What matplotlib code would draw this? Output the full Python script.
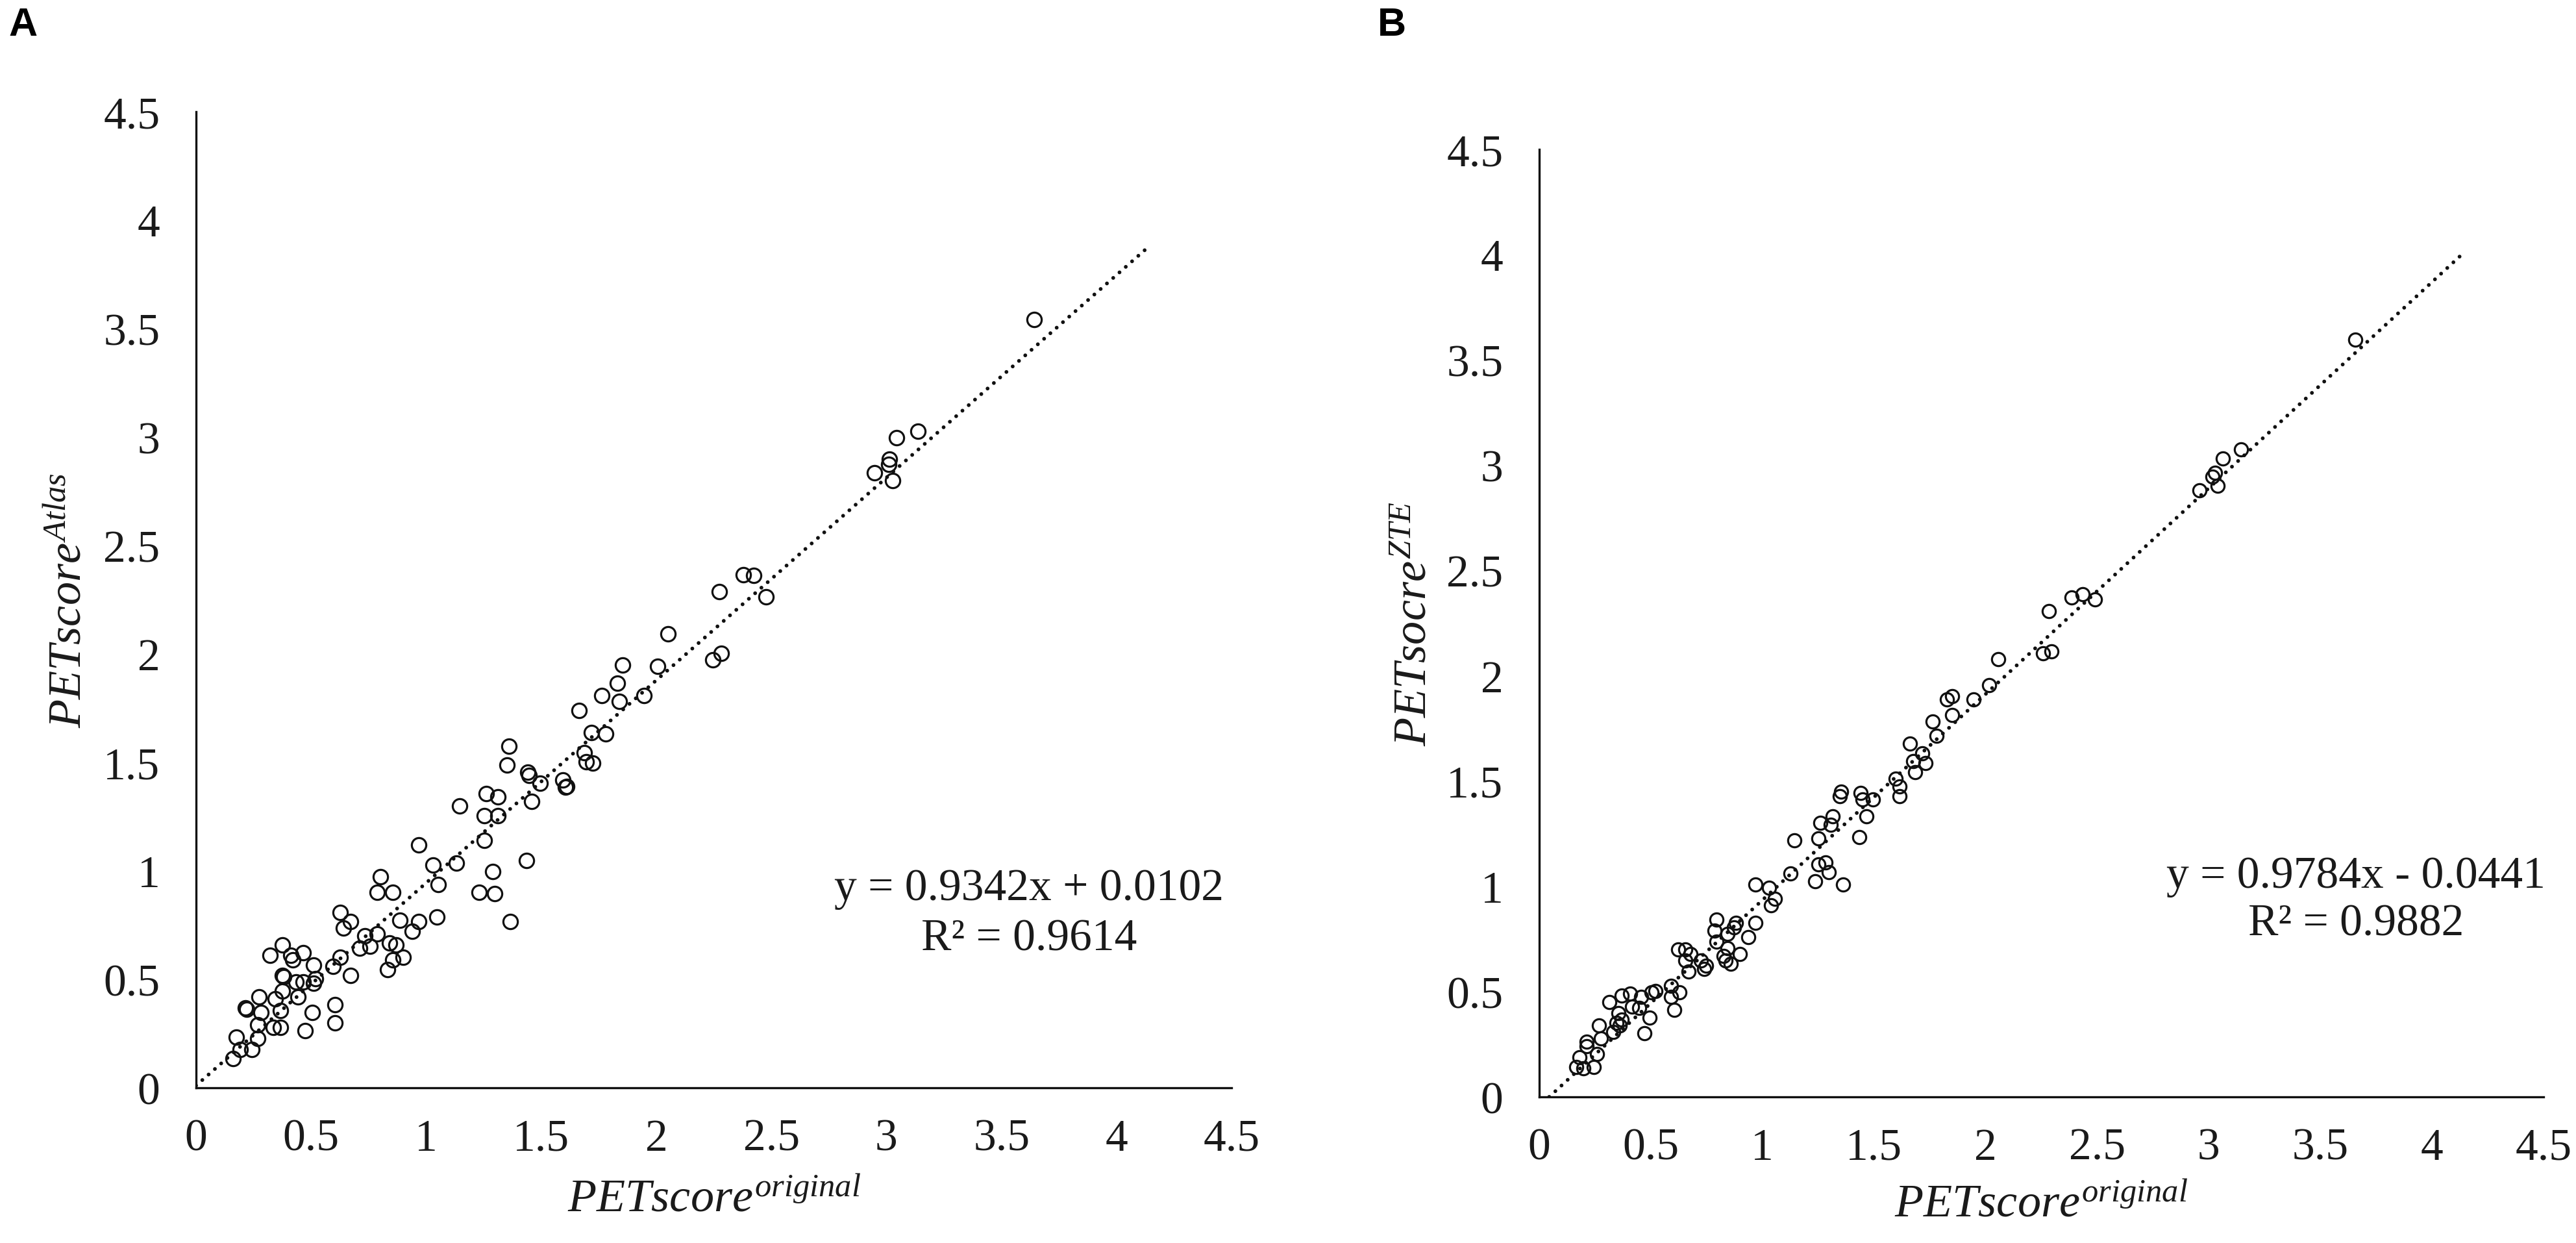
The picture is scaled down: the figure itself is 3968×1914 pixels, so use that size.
import matplotlib
matplotlib.use('Agg')
import matplotlib.pyplot as plt

plt.rcParams['font.family'] = ['Liberation Serif', 'DejaVu Serif']
plt.rcParams['mathtext.fontset'] = 'custom'
plt.rcParams['mathtext.rm'] = 'Liberation Serif'
plt.rcParams['mathtext.it'] = 'Liberation Serif:italic'

# panel A: PETscore original vs PETscore Atlas
x_a = [3.642, 3.138, 3.045, 2.948, 3.009, 3.012, 3.027, 2.379, 2.422, 2.476,
       2.275, 2.247, 2.283, 2.050, 2.007, 1.853,
       1.832, 1.763, 1.840, 1.947, 1.664, 1.718, 1.779, 1.687, 1.695, 1.725,
       1.359, 1.351, 1.443, 1.447, 1.496, 1.458, 1.595, 1.611, 1.605,
       1.145, 1.260, 1.313, 1.252, 1.313, 1.252, 1.435, 1.290, 1.229, 1.298, 1.366,
       0.969, 1.031, 1.130, 1.053, 1.046, 0.969, 0.939, 0.885,
       0.802, 0.786, 0.855, 0.786, 0.733, 0.710, 0.756, 0.840, 0.870, 0.901, 0.855, 0.832,
       0.626, 0.672, 0.641, 0.626, 0.595, 0.672,
       0.374, 0.321, 0.412, 0.466, 0.420, 0.511, 0.374, 0.380, 0.435, 0.466, 0.519, 0.511,
       0.374, 0.443, 0.344, 0.275, 0.214, 0.220, 0.282, 0.366, 0.336, 0.366, 0.267,
       0.504, 0.473, 0.603, 0.603, 0.176, 0.191, 0.244, 0.267, 0.160]
y_a = [3.542, 3.026, 2.997, 2.836, 2.873, 2.898, 2.800, 2.365, 2.361, 2.262,
       2.288, 1.974, 2.003, 2.094, 1.944, 1.948,
       1.865, 1.809, 1.780, 1.809, 1.738, 1.638, 1.631, 1.546, 1.504, 1.496,
       1.574, 1.489, 1.454, 1.440, 1.404, 1.319, 1.418, 1.390, 1.385,
       1.298, 1.355, 1.340, 1.255, 1.255, 1.142, 1.047, 0.997, 0.901, 0.894, 0.766,
       1.121, 1.028, 1.035, 0.936, 0.787, 0.766, 0.723, 0.773,
       0.972, 0.901, 0.901, 0.709, 0.702, 0.645, 0.652, 0.667, 0.660, 0.603, 0.589, 0.546,
       0.809, 0.766, 0.738, 0.603, 0.560, 0.518,
       0.660, 0.610, 0.610, 0.624, 0.589, 0.567, 0.518, 0.511, 0.489, 0.489, 0.504, 0.482,
       0.447, 0.418, 0.411, 0.418, 0.369, 0.362, 0.348, 0.355, 0.277, 0.277, 0.291,
       0.348, 0.262, 0.383, 0.298, 0.234, 0.177, 0.177, 0.227, 0.135]

# panel B: PETscore original vs PETsocre ZTE
x_b = [3.656, 3.146, 3.062, 2.959, 3.018, 3.029, 3.040, 2.386, 2.434, 2.489,
       2.283, 2.258, 2.294, 2.056,
       2.016, 1.945, 1.827, 1.850, 1.850, 1.764, 1.780, 1.661, 1.717, 1.677, 1.732,
       1.685, 1.598, 1.614, 1.614,
       1.354, 1.346, 1.441, 1.449, 1.496, 1.465, 1.433, 1.315, 1.260, 1.307, 1.252,
       1.142, 1.252, 1.283, 1.299, 1.236, 1.362, 1.126,
       0.969, 1.031, 1.055, 1.039, 0.969, 0.795, 0.882, 0.874, 0.787, 0.843, 0.937,
       0.795, 0.843, 0.898, 0.827, 0.835, 0.858,
       0.622, 0.654, 0.677, 0.654, 0.724, 0.748, 0.740, 0.669,
       0.315, 0.370, 0.409, 0.457, 0.504, 0.520, 0.591, 0.630, 0.591, 0.606,
       0.417, 0.449, 0.354, 0.370, 0.346, 0.362, 0.268, 0.331, 0.496, 0.472,
       0.276, 0.213, 0.213, 0.260, 0.181, 0.165, 0.197, 0.244]
y_b = [3.596, 3.076, 3.031, 2.880, 2.944, 2.963, 2.903, 2.372, 2.387, 2.361,
       2.308, 2.105, 2.116, 2.078,
       1.955, 1.887, 1.887, 1.902, 1.812, 1.782, 1.714, 1.677, 1.632, 1.594, 1.586,
       1.541, 1.511, 1.474, 1.429,
       1.451, 1.429, 1.444, 1.414, 1.414, 1.331, 1.233, 1.331, 1.301, 1.293, 1.226,
       1.218, 1.105, 1.113, 1.068, 1.023, 1.008, 1.060,
       1.008, 0.992, 0.940, 0.910, 0.827, 0.842, 0.827, 0.805, 0.789, 0.774, 0.759,
       0.737, 0.707, 0.677, 0.669, 0.647, 0.632,
       0.699, 0.699, 0.677, 0.647, 0.647, 0.624, 0.609, 0.594,
       0.451, 0.481, 0.489, 0.474, 0.496, 0.504, 0.526, 0.496, 0.474, 0.414,
       0.429, 0.421, 0.398, 0.368, 0.353, 0.338, 0.338, 0.308, 0.376, 0.301,
       0.278, 0.263, 0.241, 0.203, 0.188, 0.143, 0.135, 0.143]

# excel trendlines
slope_a, icpt_a = 0.9342, 0.0102
slope_b, icpt_b = 0.9784, -0.0441
trend_a_x = [0.0, 4.13]
trend_b_x = [0.045, 4.15]

ticks = [0, 0.5, 1, 1.5, 2, 2.5, 3, 3.5, 4, 4.5]
tick_labels = ['0', '0.5', '1', '1.5', '2', '2.5', '3', '3.5', '4', '4.5']

fig = plt.figure(figsize=(19.84, 9.575), dpi=200)
ax_a = fig.add_axes([0.0761, 0.1248, 0.4020, 0.7849])
ax_b = fig.add_axes([0.5975, 0.1175, 0.3899, 0.7619])

panels = [
    (ax_a, x_a, y_a, slope_a, icpt_a, trend_a_x, 8.0,
     r'$\mathit{PETscore}^{\mathit{Atlas}}$',
     'y = 0.9342x + 0.0102', 'R\u00b2 = 0.9614', (3.62, 0.917), 0.23,
     (-0.1216, -0.115)),
    (ax_b, x_b, y_b, slope_b, icpt_b, trend_b_x, 7.3,
     r'$\mathit{PETsocre}^{\mathit{ZTE}}$',
     'y = 0.9784x - 0.0441', 'R\u00b2 = 0.9882', (3.66, 1.047), 0.225,
     (-0.124, -0.114)),
]

for ax, xs, ys, m, b, tx, ms, ylab, eq, r2, pos, gap, lc in panels:
    ty = [m * v + b for v in tx]
    ax.plot(tx, ty, color='#111111', lw=2.1, dashes=(0.01, 2.2),
            dash_capstyle='round', zorder=1)
    ax.plot(xs, ys, 'o', ms=ms, mfc='none', mec='#111111', mew=1.15, zorder=2)
    ax.set_xlim(0, 4.5)
    ax.set_ylim(0, 4.5)
    ax.set_xticks(ticks)
    ax.set_xticklabels(tick_labels)
    ax.set_yticks(ticks)
    ax.set_yticklabels(tick_labels)
    ax.tick_params(length=0, labelsize=25, labelcolor='#1a1a1a')
    ax.tick_params(axis='x', pad=17)
    ax.tick_params(axis='y', pad=20)
    for s in ['top', 'right']:
        ax.spines[s].set_visible(False)
    for s in ['left', 'bottom']:
        ax.spines[s].set_linewidth(1.2)
        ax.spines[s].set_color('#111111')
    ax.set_xlabel(r'$\mathit{PETscore}^{\mathit{original}}$', fontsize=26,
                  color='#1a1a1a', va='center')
    ax.set_ylabel(ylab, fontsize=26, color='#1a1a1a', va='center')
    ax.xaxis.set_label_coords(0.5, lc[1])
    ax.yaxis.set_label_coords(lc[0], 0.5)
    ax.text(pos[0], pos[1], eq, ha='center', va='center', fontsize=25,
            color='#1a1a1a')
    ax.text(pos[0], pos[1] - gap, r2, ha='center', va='center', fontsize=25,
            color='#1a1a1a')

fig.text(0.0035, 0.9795, 'A', fontsize=22, fontweight='bold',
         family='Liberation Sans', va='center', ha='left')
fig.text(0.5348, 0.9795, 'B', fontsize=22, fontweight='bold',
         family='Liberation Sans', va='center', ha='left')

fig.savefig('out.png', dpi=200)
